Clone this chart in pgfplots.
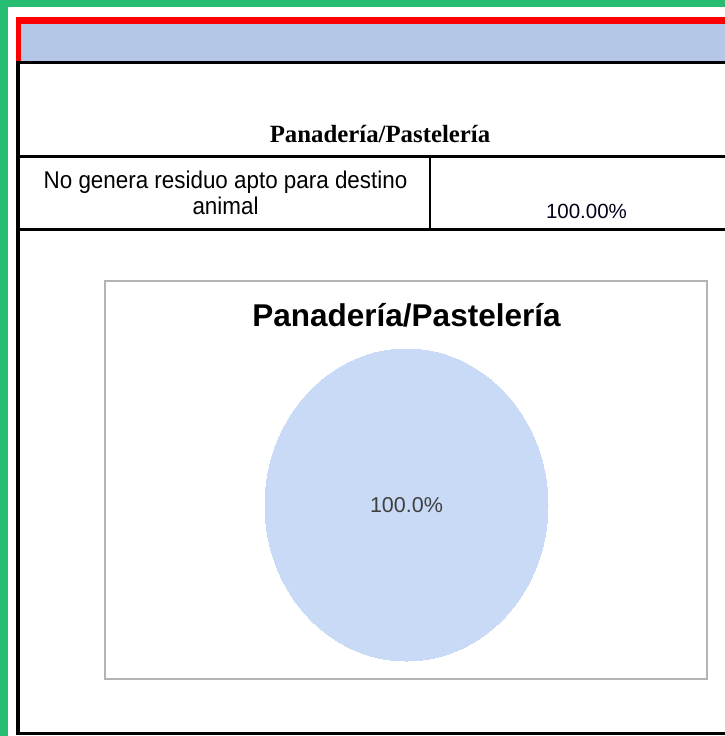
\documentclass[border=0pt]{standalone}
\usepackage{fontspec}
\setmainfont{Liberation Serif}
\newfontfamily\arial{Liberation Sans}
\usepackage{pgfplots}
\pgfplotsset{compat=1.18}
\definecolor{sheetgreen}{HTML}{26BC72}
\definecolor{headblue}{HTML}{B4C7E7}
\definecolor{pieblue}{HTML}{C9DAF6}
\definecolor{framegray}{HTML}{B4B4B4}
\definecolor{labgray}{HTML}{404040}
\begin{document}
\begin{tikzpicture}[x=1pt,y=1pt]
% page and frame (pixel coords, y downwards)
\fill[white] (0,0) rectangle (725,-736);
\useasboundingbox (0,0) rectangle (725,-736);
\fill[sheetgreen] (0,0) rectangle (8,-736);
\fill[sheetgreen] (0,0) rectangle (725,-7);
\fill[headblue] (21,-24) rectangle (725,-61);
\fill[red] (16,-17) rectangle (725,-24);
\fill[red] (16,-17) rectangle (21,-62);

% table lines
\fill[black] (16,-61) rectangle (725,-64);
\fill[black] (16,-62) rectangle (20,-735);
\fill[black] (16,-155) rectangle (725,-157.5);
\fill[black] (16,-228) rectangle (725,-230.5);
\fill[black] (428.5,-156) rectangle (431,-229);
\fill[black] (16,-732) rectangle (725,-735);

% table texts
\node[anchor=base, font=\bfseries\fontsize{24.8}{28}\selectfont] at (380,-142) {Panadería/Pastelería};
\node[anchor=base, font=\arial\fontsize{22.4}{26}\selectfont, yscale=1.08] at (225.5,-188) {No genera residuo apto para destino};
\node[anchor=base, font=\arial\fontsize{22.4}{26}\selectfont, yscale=1.08] at (225.5,-214) {animal};
\node[anchor=base, font=\arial\fontsize{20.5}{24}\selectfont, text=black!90!blue] at (586.5,-218) {100.00\%};

% chart area
\draw[framegray, line width=2pt] (105,-281) rectangle (707,-679);

\begin{axis}[
    at={(406.5pt,-505pt)},
    anchor=center,
    width=283pt,
    height=312pt,
    scale only axis,
    hide axis,
    xmin=-1, xmax=1,
    ymin=-1, ymax=1,
    clip=false,
    title={\arial\bfseries\fontsize{31.5}{36}\selectfont Panadería/Pastelería},
    title style={at={(0.5,1)}, anchor=base, yshift=17pt},
    /pgf/number format/assume math mode=true,
]
% single slice: 100%
\addplot[
    only marks,
    mark=*,
    mark size=141.5pt,
    mark options={fill=pieblue, draw=pieblue, line width=0pt, yscale=1.1025},
    point meta=explicit,
    nodes near coords={\pgfmathprintnumber[fixed, fixed zerofill, precision=1]{\pgfplotspointmeta}\%},
    every node near coord/.append style={anchor=center, font=\arial\fontsize{21.5}{24}\selectfont, text=labgray},
] coordinates {(0,0) [100]};
\end{axis}
\end{tikzpicture}
\end{document}
